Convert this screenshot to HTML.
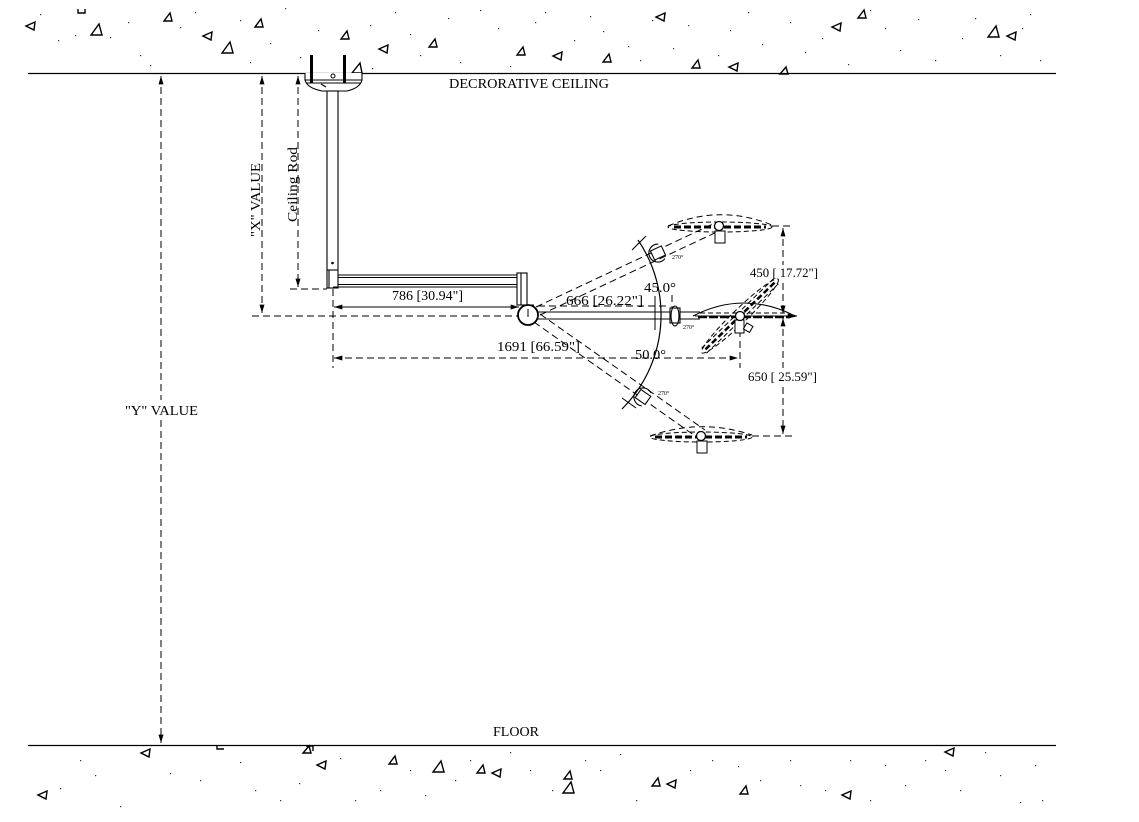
<!DOCTYPE html>
<html><head><meta charset="utf-8">
<style>
html,body{margin:0;padding:0;background:#fff;}
svg{display:block;}
text{font-family:"Liberation Serif","DejaVu Serif",serif;fill:#000;}
</style></head>
<body>
<svg width="1139" height="822" viewBox="0 0 1139 822" xmlns="http://www.w3.org/2000/svg">
<defs>
<marker id="a" viewBox="0 0 10 6" refX="10" refY="3" markerWidth="9" markerHeight="5" markerUnits="userSpaceOnUse" orient="auto-start-reverse"><path d="M0,0 L10,3 L0,6 z" fill="#000"/></marker>
</defs>
<rect width="1139" height="822" fill="#fff"/>

<!-- ceiling & floor -->
<line x1="28" y1="73.5" x2="1056" y2="73.5" stroke="#000" stroke-width="1.3"/>
<line x1="28" y1="745.5" x2="1056" y2="745.5" stroke="#000" stroke-width="1.3"/>
<text x="449" y="88" font-size="14" textLength="160" lengthAdjust="spacingAndGlyphs">DECRORATIVE CEILING</text>
<text x="493" y="736" font-size="14" textLength="46" lengthAdjust="spacingAndGlyphs">FLOOR</text>

<!-- texture triangles -->
<g fill="none" stroke="#000" stroke-width="1.4" stroke-linejoin="miter">
<path d="M164,21 L172,21 L170,13 Z"/>
<path d="M255,27 L263,27 L261,19 Z"/>
<path d="M341,39 L349,39 L347,31 Z"/>
<path d="M429,47 L437,47 L435,39 Z"/>
<path d="M517,55 L525,55 L523,47 Z"/>
<path d="M603,62 L611,62 L609,54 Z"/>
<path d="M692,68 L700,68 L698,60 Z"/>
<path d="M858,18 L866,18 L864,10 Z"/>
<path d="M780,74 L788,74 L786,67 Z"/>
<path d="M91,35 L102,35 L99,24 Z"/>
<path d="M222,53 L233,53 L230,42 Z"/>
<path d="M988,37 L999,37 L996,26 Z"/>
<path d="M352,73 L362,73 L360,63 Z"/>
<path d="M26,26 L35,22 L34,30 Z"/>
<path d="M203,36 L212,32 L211,40 Z"/>
<path d="M379,49 L388,45 L387,53 Z"/>
<path d="M553,56 L562,52 L561,60 Z"/>
<path d="M656,17 L665,13 L664,21 Z"/>
<path d="M832,27 L841,23 L840,31 Z"/>
<path d="M729,67 L738,63 L737,71 Z"/>
<path d="M1007,36 L1016,32 L1015,40 Z"/>
<path d="M78,9 L78,13 L85,13 L85,9"/>
<path d="M141,753 L150,749 L149,757 Z"/>
<path d="M38,795 L47,791 L46,799 Z"/>
<path d="M317,765 L326,761 L325,769 Z"/>
<path d="M492,773 L501,769 L500,777 Z"/>
<path d="M667,784 L676,780 L675,788 Z"/>
<path d="M842,795 L851,791 L850,799 Z"/>
<path d="M945,752 L954,748 L953,756 Z"/>
<path d="M389,764 L397,764 L395,756 Z"/>
<path d="M477,773 L485,773 L483,765 Z"/>
<path d="M564,779 L572,779 L570,771 Z"/>
<path d="M652,786 L660,786 L658,778 Z"/>
<path d="M740,794 L748,794 L746,786 Z"/>
<path d="M433,772 L444,772 L441,761 Z"/>
<path d="M563,793 L574,793 L571,782 Z"/>
<path d="M303,753 L311,753 L309,746 Z"/>
<path d="M306,746 L313,746 L313,751"/>
<path d="M217,746 L217,749 L224,749"/>
</g>

<!-- texture dots -->
<g fill="#333">
<rect x="40" y="14" width="1.2" height="1.2"/><rect x="58" y="40" width="1.2" height="1.2"/><rect x="75" y="35" width="1.2" height="1.2"/><rect x="110" y="37" width="1.2" height="1.2"/><rect x="128" y="22" width="1.2" height="1.2"/><rect x="140" y="55" width="1.2" height="1.2"/><rect x="150" y="65" width="1.2" height="1.2"/><rect x="180" y="27" width="1.2" height="1.2"/><rect x="195" y="12" width="1.2" height="1.2"/><rect x="240" y="20" width="1.2" height="1.2"/><rect x="250" y="62" width="1.2" height="1.2"/><rect x="270" y="43" width="1.2" height="1.2"/><rect x="285" y="8" width="1.2" height="1.2"/><rect x="300" y="57" width="1.2" height="1.2"/><rect x="318" y="30" width="1.2" height="1.2"/><rect x="372" y="68" width="1.2" height="1.2"/><rect x="370" y="25" width="1.2" height="1.2"/><rect x="395" y="12" width="1.2" height="1.2"/><rect x="410" y="34" width="1.2" height="1.2"/><rect x="420" y="55" width="1.2" height="1.2"/><rect x="448" y="18" width="1.2" height="1.2"/><rect x="460" y="62" width="1.2" height="1.2"/><rect x="480" y="10" width="1.2" height="1.2"/><rect x="498" y="28" width="1.2" height="1.2"/><rect x="510" y="66" width="1.2" height="1.2"/><rect x="535" y="22" width="1.2" height="1.2"/><rect x="545" y="12" width="1.2" height="1.2"/><rect x="574" y="40" width="1.2" height="1.2"/><rect x="590" y="16" width="1.2" height="1.2"/><rect x="603" y="31" width="1.2" height="1.2"/><rect x="628" y="46" width="1.2" height="1.2"/><rect x="640" y="60" width="1.2" height="1.2"/><rect x="652" y="20" width="1.2" height="1.2"/><rect x="673" y="48" width="1.2" height="1.2"/><rect x="688" y="25" width="1.2" height="1.2"/><rect x="718" y="55" width="1.2" height="1.2"/><rect x="730" y="30" width="1.2" height="1.2"/><rect x="748" y="12" width="1.2" height="1.2"/><rect x="762" y="44" width="1.2" height="1.2"/><rect x="790" y="22" width="1.2" height="1.2"/><rect x="805" y="52" width="1.2" height="1.2"/><rect x="822" y="38" width="1.2" height="1.2"/><rect x="848" y="64" width="1.2" height="1.2"/><rect x="870" y="10" width="1.2" height="1.2"/><rect x="885" y="28" width="1.2" height="1.2"/><rect x="900" y="50" width="1.2" height="1.2"/><rect x="918" y="19" width="1.2" height="1.2"/><rect x="935" y="60" width="1.2" height="1.2"/><rect x="962" y="38" width="1.2" height="1.2"/><rect x="975" y="18" width="1.2" height="1.2"/><rect x="1000" y="55" width="1.2" height="1.2"/><rect x="1022" y="28" width="1.2" height="1.2"/><rect x="1040" y="60" width="1.2" height="1.2"/><rect x="1030" y="14" width="1.2" height="1.2"/>
<rect x="60" y="788" width="1.2" height="1.2"/><rect x="80" y="760" width="1.2" height="1.2"/><rect x="95" y="775" width="1.2" height="1.2"/><rect x="120" y="806" width="1.2" height="1.2"/><rect x="170" y="773" width="1.2" height="1.2"/><rect x="200" y="780" width="1.2" height="1.2"/><rect x="240" y="762" width="1.2" height="1.2"/><rect x="255" y="790" width="1.2" height="1.2"/><rect x="280" y="800" width="1.2" height="1.2"/><rect x="299" y="783" width="1.2" height="1.2"/><rect x="340" y="758" width="1.2" height="1.2"/><rect x="355" y="800" width="1.2" height="1.2"/><rect x="380" y="790" width="1.2" height="1.2"/><rect x="410" y="770" width="1.2" height="1.2"/><rect x="425" y="795" width="1.2" height="1.2"/><rect x="455" y="780" width="1.2" height="1.2"/><rect x="470" y="760" width="1.2" height="1.2"/><rect x="510" y="752" width="1.2" height="1.2"/><rect x="530" y="770" width="1.2" height="1.2"/><rect x="552" y="790" width="1.2" height="1.2"/><rect x="585" y="760" width="1.2" height="1.2"/><rect x="600" y="770" width="1.2" height="1.2"/><rect x="620" y="754" width="1.2" height="1.2"/><rect x="636" y="800" width="1.2" height="1.2"/><rect x="690" y="770" width="1.2" height="1.2"/><rect x="712" y="760" width="1.2" height="1.2"/><rect x="738" y="766" width="1.2" height="1.2"/><rect x="760" y="780" width="1.2" height="1.2"/><rect x="790" y="760" width="1.2" height="1.2"/><rect x="800" y="785" width="1.2" height="1.2"/><rect x="825" y="790" width="1.2" height="1.2"/><rect x="850" y="760" width="1.2" height="1.2"/><rect x="870" y="800" width="1.2" height="1.2"/><rect x="885" y="765" width="1.2" height="1.2"/><rect x="905" y="785" width="1.2" height="1.2"/><rect x="925" y="760" width="1.2" height="1.2"/><rect x="945" y="770" width="1.2" height="1.2"/><rect x="960" y="790" width="1.2" height="1.2"/><rect x="985" y="752" width="1.2" height="1.2"/><rect x="1000" y="775" width="1.2" height="1.2"/><rect x="1020" y="802" width="1.2" height="1.2"/><rect x="1035" y="765" width="1.2" height="1.2"/><rect x="1042" y="800" width="1.2" height="1.2"/>
</g>

<!-- Y value -->
<g stroke="#000" stroke-width="1" fill="none" stroke-dasharray="7,4">
<line x1="161" y1="76" x2="161" y2="400" marker-start="url(#a)"/>
<line x1="161" y1="420" x2="161" y2="743" marker-end="url(#a)"/>
<line x1="262" y1="76" x2="262" y2="313" marker-start="url(#a)" marker-end="url(#a)"/>
<line x1="252" y1="316" x2="520" y2="316"/>
<line x1="298" y1="76" x2="298" y2="287" marker-start="url(#a)" marker-end="url(#a)"/>
<line x1="290" y1="289" x2="327" y2="289"/>
<line x1="333" y1="289" x2="333" y2="368"/>
</g>
<text x="125" y="415" font-size="14" textLength="73" lengthAdjust="spacingAndGlyphs">"Y" VALUE</text>
<text transform="translate(260,237) rotate(-90)" font-size="14" textLength="74" lengthAdjust="spacingAndGlyphs">"X" VALUE</text>
<text transform="translate(297,222) rotate(-90)" font-size="14" textLength="75" lengthAdjust="spacingAndGlyphs">Ceiling Rod</text>

<!-- ceiling mount -->
<g stroke="#000" stroke-width="1.1" fill="#fff">
<path d="M305,73 L305,80 Q307,88 322,91 L347,91 Q360,88 362,80 L362,73"/>
<line x1="305" y1="80" x2="362" y2="80"/>
<line x1="306" y1="83" x2="361" y2="83"/>
<line x1="321" y1="84" x2="326" y2="87"/>
<rect x="327" y="91" width="11" height="197"/>
<line x1="327" y1="270" x2="338" y2="270"/>
<line x1="329" y1="270" x2="329" y2="288"/>
</g>
<rect x="310" y="55" width="3" height="28" fill="#000"/>
<rect x="343" y="55" width="3" height="28" fill="#000"/>
<circle cx="333" cy="76" r="2" fill="#fff" stroke="#000" stroke-width="1"/>
<circle cx="332.5" cy="263" r="1.3" fill="#000"/>

<!-- horizontal arm -->
<g stroke="#000" stroke-width="1.1" fill="none">
<line x1="338" y1="275" x2="517" y2="275"/>
<line x1="338" y1="277.5" x2="517" y2="277.5"/>
<line x1="338" y1="284.5" x2="517" y2="284.5"/>
<line x1="333" y1="287" x2="517" y2="287"/>
<rect x="517" y="273" width="10" height="32" fill="#fff"/>
<line x1="521" y1="273" x2="521" y2="305"/>
</g>
<line x1="334" y1="307" x2="519" y2="307" stroke="#000" stroke-width="1" marker-start="url(#a)" marker-end="url(#a)"/>
<text x="392" y="300" font-size="14" textLength="71" lengthAdjust="spacingAndGlyphs">786 [30.94"]</text>

<!-- arms -->
<g stroke="#000" stroke-width="1" fill="none" stroke-dasharray="7,4">
<line x1="536" y1="307" x2="715" y2="223"/>
<line x1="540" y1="315" x2="719" y2="231"/>
<line x1="540" y1="314" x2="705" y2="430"/>
<line x1="534" y1="322" x2="698" y2="438"/>
<line x1="538" y1="306" x2="670" y2="306"/>
<line x1="672" y1="295" x2="672" y2="312"/>
<line x1="334" y1="358" x2="738" y2="358" marker-start="url(#a)" marker-end="url(#a)"/>
<line x1="740" y1="330" x2="740" y2="368"/>
<line x1="772" y1="226" x2="793" y2="226"/>
<line x1="752" y1="436" x2="796" y2="436"/>
<line x1="783" y1="228" x2="783" y2="265" marker-start="url(#a)"/>
<line x1="783" y1="283" x2="783" y2="314" marker-end="url(#a)"/>
<line x1="783" y1="318" x2="783" y2="368" marker-start="url(#a)"/>
<line x1="783" y1="387" x2="783" y2="434" marker-end="url(#a)"/>
</g>
<text x="566" y="305" font-size="14" textLength="77" lengthAdjust="spacingAndGlyphs">666 [26.22"]</text>
<text x="497" y="351" font-size="14" textLength="83" lengthAdjust="spacingAndGlyphs">1691 [66.59"]</text>
<text x="750" y="277" font-size="13" textLength="68" lengthAdjust="spacingAndGlyphs">450 [ 17.72"]</text>
<text x="748" y="381" font-size="13" textLength="69" lengthAdjust="spacingAndGlyphs">650 [ 25.59"]</text>

<g stroke="#000" stroke-width="1.1" fill="none">
<line x1="537" y1="312" x2="700" y2="312"/>
<line x1="537" y1="319" x2="700" y2="319"/>
</g>

<circle cx="528" cy="315" r="10" fill="#fff" stroke="#000" stroke-width="1.8"/>
<line x1="528" y1="309" x2="528" y2="317" stroke="#000" stroke-width="1"/>
<line x1="519" y1="305" x2="534" y2="305" stroke="#000" stroke-width="1"/>

<path d="M638,240 A133,133 0 0 1 622,409" fill="none" stroke="#000" stroke-width="1.2"/>
<line x1="655" y1="296" x2="655" y2="330" stroke="#000" stroke-width="1"/>
<line x1="622" y1="398" x2="636" y2="408" stroke="#000" stroke-width="1"/>
<line x1="632" y1="250" x2="646" y2="236" stroke="#000" stroke-width="1"/>
<text x="644" y="292" font-size="14" textLength="32" lengthAdjust="spacingAndGlyphs">45.0°</text>
<text x="635" y="359" font-size="14" textLength="31" lengthAdjust="spacingAndGlyphs">50.0°</text>

<g stroke="#000" stroke-width="1.1" fill="#fff">
<g transform="translate(658,253) rotate(-25)">
<rect x="-6" y="-5" width="12" height="10"/>
<path d="M4,-8 A9,9 0 1 0 4,8" fill="none"/>
</g>
<g transform="translate(643,397) rotate(35)">
<rect x="-6" y="-5" width="12" height="10"/>
<path d="M4,-8 A9,9 0 1 0 4,8" fill="none"/>
</g>
<rect x="670" y="308" width="10" height="15"/>
<ellipse cx="675" cy="316" rx="4" ry="10" fill="none"/>
</g>
<text x="672" y="259" font-size="6">270°</text>
<text x="658" y="395" font-size="6">270°</text>
<text x="683" y="329" font-size="6">270°</text>

<!-- upper lamp -->
<g stroke="#000" fill="none">
<path d="M668,226 Q720,204 772,225" stroke-width="1" stroke-dasharray="6,4"/>
<ellipse cx="720" cy="227" rx="52" ry="5" stroke-width="1" stroke-dasharray="5,3"/>
<line x1="674" y1="227" x2="766" y2="227" stroke-width="3" stroke-dasharray="7,3"/>
<rect x="715" y="231" width="10" height="12" fill="#fff" stroke-width="1"/>
<circle cx="719" cy="226" r="4.5" fill="#fff" stroke-width="1.3"/>
</g>

<!-- lower lamp -->
<g stroke="#000" fill="none">
<path d="M650,436 Q701,418 752,435" stroke-width="1" stroke-dasharray="6,4"/>
<ellipse cx="701" cy="437" rx="51" ry="5" stroke-width="1" stroke-dasharray="5,3"/>
<line x1="655" y1="437" x2="747" y2="437" stroke-width="3" stroke-dasharray="7,3"/>
<rect x="697" y="441" width="10" height="12" fill="#fff" stroke-width="1"/>
<circle cx="701" cy="436" r="4.5" fill="#fff" stroke-width="1.3"/>
</g>

<!-- horizontal lamp -->
<g stroke="#000" fill="none">
<path d="M693,316 Q744,290 795,316" stroke-width="1.1"/>
<path d="M695,316 L795,316" stroke-width="1"/>
<line x1="698" y1="317" x2="790" y2="317" stroke-width="2.5" stroke-dasharray="9,2"/>
<line x1="700" y1="313" x2="785" y2="313" stroke-width="1" stroke-dasharray="5,3"/>
<path d="M788,314 L797,316 L788,318 Z" fill="#000" stroke-width="0.8"/>
</g>
<!-- tilted lamp -->
<g transform="translate(740,316) rotate(-44)" stroke="#000" fill="none">
<ellipse cx="0" cy="0" rx="53" ry="7" stroke-width="1" stroke-dasharray="5,3"/>
<line x1="-48" y1="0" x2="48" y2="0" stroke-width="2.5" stroke-dasharray="6,3"/>
<line x1="-50" y1="-3.5" x2="50" y2="-3.5" stroke-width="1" stroke-dasharray="5,3"/>
<line x1="-50" y1="3.5" x2="50" y2="3.5" stroke-width="1" stroke-dasharray="5,3"/>
</g>
<g stroke="#000" fill="#fff" stroke-width="1">
<rect x="735" y="320" width="9" height="13"/>
<rect x="745" y="324" width="7" height="7" transform="rotate(30 748 327)"/>
<circle cx="740" cy="316" r="4.5" stroke-width="1.3"/>
</g>
</svg>
</body></html>
